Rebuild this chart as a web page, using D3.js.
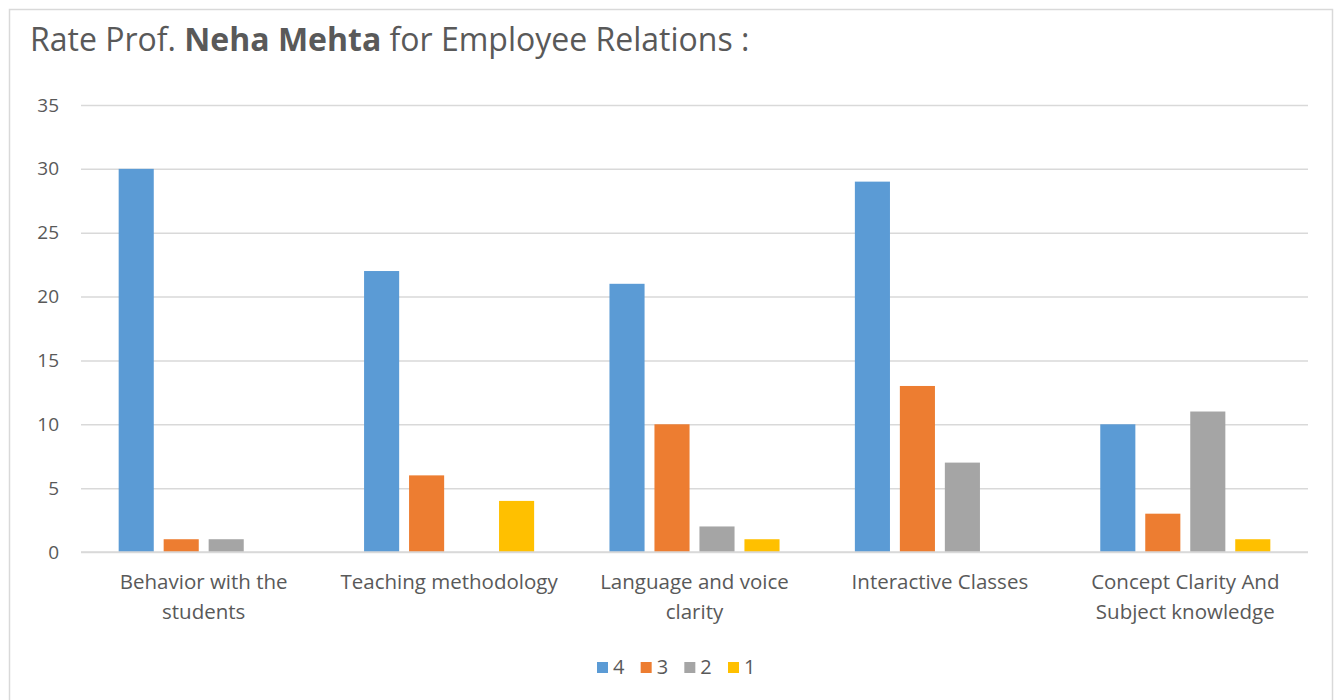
<!DOCTYPE html>
<html>
<head>
<meta charset="utf-8">
<script src="https://cdn.jsdelivr.net/npm/d3@7"></script>
<style>
  html, body { margin: 0; padding: 0; background: #ffffff; }
  svg { display: block; }
  text { font-family: "Open Sans", Lato, sans-serif; fill: #595959; }
</style>
</head>
<body>
<svg id="chart" width="1337" height="700"></svg>
<script>
const categories = [
  ["Behavior with the", "students"],
  ["Teaching methodology"],
  ["Language and voice", "clarity"],
  ["Interactive Classes"],
  ["Concept Clarity And", "Subject knowledge"]
];
const seriesNames = ["4", "3", "2", "1"];
const seriesColors = ["#5B9BD5", "#ED7D31", "#A5A5A5", "#FFC000"];
const values4 = [30, 22, 21, 29, 10];
const values3 = [1, 6, 10, 13, 3];
const values2 = [1, 0, 2, 7, 11];
const values1 = [0, 4, 1, 0, 1];
const yTicks = [0, 5, 10, 15, 20, 25, 30, 35];

const seriesValues = [values4, values3, values2, values1];
const catKeys = categories.map((c, i) => i);

const svg = d3.select("#chart");

// chart border
svg.append("rect")
  .attr("x", 9.5).attr("y", 9.5)
  .attr("width", 1323).attr("height", 720)
  .attr("fill", "#ffffff")
  .attr("stroke", "#D9D9D9").attr("stroke-width", 1.5);

// title
const title = svg.append("text")
  .attr("x", 30).attr("y", 51)
  .style("font-size", "32px");
title.append("tspan").text("Rate Prof. ");
title.append("tspan").style("font-weight", "bold").text("Neha Mehta");
title.append("tspan").text(" for Employee Relations :");

const plotLeft = 81, plotRight = 1308;
const y = d3.scaleLinear().domain([0, 35]).range([552, 105]);
const x0 = d3.scaleBand().domain(catKeys).range([plotLeft, plotRight])
  .paddingInner(0.307).paddingOuter(0.1535);
const x1 = d3.scaleBand().domain(seriesNames).range([0, x0.bandwidth()])
  .paddingInner(0.22);

// gridlines
const yAxis = d3.axisLeft(y).tickValues(yTicks)
  .tickSize(-(plotRight - plotLeft)).tickPadding(22).tickFormat(d3.format("d"));
const gAxis = svg.append("g").attr("transform", `translate(${plotLeft},0)`).call(yAxis);
gAxis.select(".domain").remove();
gAxis.selectAll(".tick line").attr("stroke", "#D9D9D9").attr("stroke-width", 1.5);
gAxis.selectAll(".tick text")
  .style("font-size", "19px")
  .style("font-family", "'Open Sans', Lato, sans-serif")
  .attr("fill", "#595959");

// bars
const groups = svg.append("g").selectAll("g")
  .data(catKeys).join("g")
  .attr("transform", d => `translate(${x0(d)},0)`);
groups.selectAll("rect")
  .data(ci => seriesNames.map((s, si) => ({ s, si, v: seriesValues[si][ci] })))
  .join("rect")
  .attr("x", d => x1(d.s))
  .attr("width", x1.bandwidth())
  .attr("y", d => y(d.v))
  .attr("height", d => y(0) - y(d.v))
  .attr("fill", d => seriesColors[d.si]);

// baseline over bars
svg.append("line")
  .attr("x1", plotLeft).attr("x2", plotRight)
  .attr("y1", y(0)).attr("y2", y(0))
  .attr("stroke", "#D9D9D9").attr("stroke-width", 1.5);

// category labels
const catLabels = svg.append("g").selectAll("text")
  .data(categories).join("text")
  .attr("text-anchor", "middle")
  .attr("x", (d, i) => x0(i) + x0.bandwidth() / 2)
  .attr("y", 589)
  .style("font-size", "20.5px");
catLabels.selectAll("tspan")
  .data(d => d).join("tspan")
  .attr("x", function () { return d3.select(this.parentNode).attr("x"); })
  .attr("dy", (d, i) => i === 0 ? 0 : 30)
  .text(d => d);

// legend
const legendX = d3.scalePoint().domain(seriesNames).range([597, 728]);
const lg = svg.append("g").selectAll("g")
  .data(seriesNames).join("g")
  .attr("transform", d => `translate(${legendX(d)},662)`);
lg.append("rect").attr("width", 11).attr("height", 11)
  .attr("fill", (d, i) => seriesColors[i]);
lg.append("text").attr("x", 16).attr("y", 12)
  .style("font-size", "20px").text(d => d);
</script>
</body>
</html>
